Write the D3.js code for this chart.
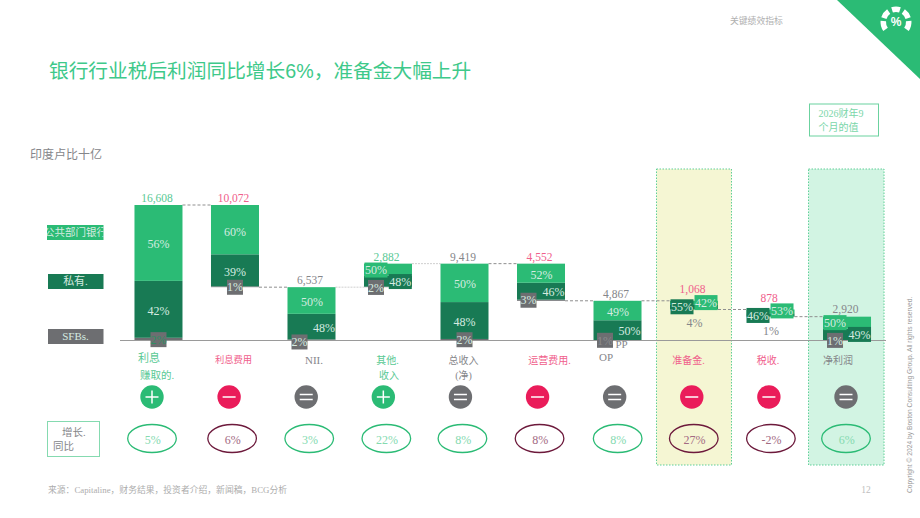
<!DOCTYPE html>
<html lang="zh">
<head>
<meta charset="utf-8">
<title>银行行业税后利润</title>
<script src="https://cdn.jsdelivr.net/npm/d3@7/dist/d3.min.js"></script>
<style>
  html, body { margin: 0; padding: 0; background: #fff; }
  svg { display: block; }
  text { font-family: "Liberation Serif", "Noto Sans CJK SC", serif; }
</style>
</head>
<body>
<svg id="chart" width="920" height="518"></svg>
<script>
// Profit-after-tax bridge for the Indian banking sector, INR billion
const categories = ["利息赚取的", "利息费用", "NII", "其他收入", "总收入", "运营费用", "OP PP", "准备金", "税收", "净利润"];
const values = [16608, 10072, 6537, 2882, 9419, 4552, 4867, 1068, 878, 2920];
const kinds = ["plus", "minus", "total", "plus", "total", "minus", "total", "minus", "minus", "total"];
const publicShare = [56, 60, 50, 50, 50, 52, 49, 42, 53, 50];
const privateShare = [42, 39, 48, 48, 48, 46, 50, 55, 46, 49];
const sfbShare = [2, 1, 2, 2, 2, 3, 1, 4, 1, 1];
const growth = ["5%", "6%", "3%", "22%", "8%", "8%", "8%", "27%", "-2%", "6%"];
const growthTone = ["good", "bad", "good", "good", "good", "bad", "good", "bad", "bad", "good"];
const legendNames = ["公共部门银行", "私有.", "SFBs."];

const GREEN = "#2bbb75", DARK = "#187a54", GREY = "#6d6e71", PINK = "#ea1c5a", MAROON = "#6d1a3c";
const kindColor = { plus: "#58c994", minus: "#f0608b", total: "#85868a" };
const svg = d3.select("#chart");

const x = d3.scaleBand().domain(categories).range([120.25, 885.25]).paddingInner(0.3725).paddingOuter(0.186);
const y = d3.scaleLinear().domain([0, 16608]).range([340.5, 205]);
const rowX = d3.scalePoint().domain(categories).range([152, 846]);
const cx = c => x(c) + x.bandwidth() / 2;

function label(sel, px, py, str, size, fill, anchor = "middle") {
  return sel.append("text").attr("x", px).attr("y", py).attr("dy", "0.35em")
    .attr("text-anchor", anchor).attr("font-size", size).attr("fill", fill).text(str);
}

// Shaded columns behind provisions and net profit
[["准备金", "#f5f6d3", -37.5, 37.5], ["净利润", "#d2f4e3", -38.5, 37]].forEach(([c, fill, a, b]) => {
  svg.append("rect").attr("x", cx(c) + a).attr("y", 169).attr("width", b - a).attr("height", 296)
    .attr("fill", fill).attr("stroke", "#5fcf98").attr("stroke-width", 1).attr("stroke-dasharray", "1.5 1.5");
});

// Running totals for the bridge
let running = 0;
const bars = categories.map((c, i) => {
  const v = values[i];
  let base, top;
  if (kinds[i] === "total") { base = 0; top = v; running = v; }
  else if (kinds[i] === "plus") { base = running; top = running + v; running = top; }
  else { top = running; base = running - v; running = base; }
  const sum = publicShare[i] + privateShare[i] + sfbShare[i];
  const seg = [];
  let cursor = base;
  [[sfbShare[i], GREY, "sfb"], [privateShare[i], DARK, "private"], [publicShare[i], GREEN, "public"]].forEach(([s, color, key]) => {
    const h = v * s / sum;
    seg.push({ key, share: s, color, y0: cursor, y1: cursor + h });
    cursor += h;
  });
  return { c, i, v, base, top, seg };
});

// Connector lines between consecutive bars
const connectorLevel = i => kinds[i] === "minus" ? bars[i].base : bars[i].top;
bars.slice(0, -1).forEach((b, i) => {
  const lvl = connectorLevel(i);
  const faint = i === 2 || i === 3;
  svg.append("line").attr("x1", x(b.c) + x.bandwidth()).attr("x2", x(bars[i + 1].c))
    .attr("y1", y(lvl)).attr("y2", y(lvl))
    .attr("stroke", faint ? "#cfcfcf" : "#8f8f8f").attr("stroke-width", 1).attr("stroke-dasharray", faint ? "2 1" : "3 2");
});

// Stacked segments
bars.forEach(b => {
  svg.selectAll(null).data(b.seg).join("rect")
    .attr("x", x(b.c)).attr("width", x.bandwidth())
    .attr("y", d => y(d.y1)).attr("height", d => y(d.y0) - y(d.y1))
    .attr("fill", d => d.color);
});

// Baseline
svg.append("line").attr("x1", 120).attr("x2", 886).attr("y1", y(0)).attr("y2", y(0))
  .attr("stroke", "#9a9a9a").attr("stroke-width", 1);

// Share label placement per bar: offset from bar centre / segment middle, tagged or plain
const placement = [
  { public: [0, 1], private: [0, 1], sfb: [0, 0.5, "tag", "#2f8f63"] },
  { public: [0, 2], private: [0, 1], sfb: [0, 0.5, "tag"] },
  { public: [0.5, 1.5], private: [12.5, 1.5], sfb: [-12, 2, "tag"] },
  { public: [-12, 0.5, "tag"], private: [12.3, 0.5, "tag"], sfb: [-12, 0.5, "tag"] },
  { public: [0.5, 1], private: [0, 1], sfb: [0, 0, "tag"] },
  { public: [0.5, 1.5], private: [12.5, 1], sfb: [-12.5, 0, "tag"] },
  { public: [0.5, 1.5], private: [12, 1, "", "#d5ebe0"], sfb: [-12.5, 0, "tag", "#8a8b8e"] },
  { public: [12, 0, "tag"], private: [-12, 0, "tag"], sfb: [0.5, 13, "text"] },
  { public: [11.5, -0.5, "tag"], private: [-12.5, 0.5, "tag"], sfb: [0.5, 14, "text"] },
  { public: [-12, 0, "tag"], private: [12.5, 0, "tag"], sfb: [-12, 0, "tag"] }
];

bars.forEach(b => {
  ["public", "private", "sfb"].forEach(key => {
    const s = b.seg.find(d => d.key === key);
    const [dx, dy, mode, ink] = placement[b.i][key];
    const px = cx(b.c) + dx, py = (y(s.y0) + y(s.y1)) / 2 + dy;
    if (mode === "tag") {
      const w = key === "sfb" ? 16 : 23;
      svg.append("rect").attr("x", px - w / 2).attr("y", py - 7.5).attr("width", w).attr("height", 15).attr("fill", s.color);
    }
    const fill = ink || (mode === "text" ? "#85868a" : "#d5ebe0");
    label(svg, px, py, s.share + "%", 12, fill);
  });
});

// Bar totals
const totalLift = [7, 7, 7, 7, 7, 7, 7, 12, 12, 7.5];
bars.forEach(b => {
  label(svg, cx(b.c) - 1.5, y(b.top) - totalLift[b.i], d3.format(",")(b.v), 11.5, kindColor[kinds[b.i]]);
});

// Category captions, some broken over two lines
const captions = [
  [["利息", -9.5, 358, 11], ["赚取的.", -1.5, 375, 10.5]],
  [["利息费用", -1.5, 360, 9.3]],
  [["NII.", 2.5, 360, 11]],
  [["其他.", -0.5, 360, 10], ["收入", 1, 375, 10]],
  [["总收入", -1, 360, 10], ["(净)", -1, 375, 10]],
  [["运营费用.", 8.5, 360, 10]],
  [["OP", -11.5, 357, 11], ["PP", 4, 344, 11]],
  [["准备金.", -5.5, 360, 10]],
  [["税收.", -2.5, 360, 10]],
  [["净利润", -9, 360, 10]]
];
captions.forEach((lines, i) => {
  lines.forEach(([s, dx, py, size]) => label(svg, cx(categories[i]) + dx, py, s, size, kindColor[kinds[i]]));
});

// Sign badges
const badgeColor = { plus: GREEN, minus: PINK, total: GREY };
categories.forEach((c, i) => {
  const g = svg.append("g").attr("transform", `translate(${rowX(c)},397)`);
  g.append("circle").attr("r", 11.7).attr("fill", badgeColor[kinds[i]]);
  const stroke = (x1, y1, x2, y2) => g.append("line").attr("x1", x1).attr("y1", y1).attr("x2", x2).attr("y2", y2)
    .attr("stroke", "#fff").attr("stroke-width", 1.5);
  if (kinds[i] === "plus") { stroke(-6.5, 0, 6.5, 0); stroke(0, -6.5, 0, 6.5); }
  if (kinds[i] === "minus") { stroke(-6.5, 0, 6.5, 0); }
  if (kinds[i] === "total") { stroke(-6.5, -2.5, 6.5, -2.5); stroke(-6.5, 2.5, 6.5, 2.5); }
});

// Year-on-year growth ovals
const ovalShift = [0, 3, 3, 3, 2, 2, 3, 2, 2, 0];
categories.forEach((c, i) => {
  const px = rowX(c) + ovalShift[i], good = growthTone[i] === "good";
  svg.append("ellipse").attr("cx", px).attr("cy", 438.5).attr("rx", 24.3).attr("ry", 14)
    .attr("fill", "none").attr("stroke", good ? GREEN : MAROON).attr("stroke-width", 1.3);
  label(svg, px + 0.7, 439.5, growth[i], 12, good ? "#85dab0" : "#a36a83");
});

svg.append("rect").attr("x", 47.5).attr("y", 421.5).attr("width", 52).attr("height", 35)
  .attr("fill", "none").attr("stroke", "#85dab0").attr("stroke-width", 1);
label(svg, 62, 432.5, "增长.", 10.5, "#85868a", "start");
label(svg, 53, 446.5, "同比", 10.5, "#85868a", "start");

// Legend chips
[[47, GREEN, 225], [48, DARK, 274], [48, GREY, 329]].forEach(([lx, color, ly], k) => {
  svg.append("rect").attr("x", lx).attr("y", ly).attr("width", 103 - lx + 0.5).attr("height", 15).attr("fill", color);
  const clipId = "chip" + k;
  svg.append("clipPath").attr("id", clipId).append("rect").attr("x", lx).attr("y", ly).attr("width", 103 - lx + 0.5).attr("height", 15);
  label(svg, 75.5, ly + 7.5, legendNames[k], k === 0 ? 10.5 : 11, "#d5ebe0").attr("clip-path", `url(#${clipId})`);
});

// Header, unit and note box
label(svg, 49, 71.5, "银行行业税后利润同比增长6%，准备金大幅上升", 19.7, "#3ec98a", "start")
  .style("font-family", "'Liberation Sans', 'Noto Sans CJK SC', sans-serif");
label(svg, 30, 155, "印度卢比十亿", 12, "#85868a", "start");
label(svg, 730, 21, "关键绩效指标", 8.8, "#b0b0b0", "start");
svg.append("rect").attr("x", 809.5).attr("y", 104).attr("width", 69).attr("height", 32)
  .attr("fill", "none").attr("stroke", "#6bd29f").attr("stroke-width", 1);
label(svg, 818.5, 113.5, "2026财年9", 10, "#7ad6a9", "start");
label(svg, 818.5, 127.5, "个月的值", 10, "#7ad6a9", "start");

// Corner flag with its dial emblem
svg.append("path").attr("d", d3.line()([[837, 0], [920, 0], [920, 79]])).attr("fill", GREEN);
const dial = d3.arc().innerRadius(10).outerRadius(15.5);
const toRad = d => d * Math.PI / 180;
[[-125, -85], [-72, -35], [-18, 18], [35, 72], [85, 125]].forEach(([a, b]) => {
  svg.append("path").attr("transform", "translate(896,22)").attr("fill", "#fff")
    .attr("d", dial({ startAngle: toRad(a), endAngle: toRad(b) }));
});
svg.append("text").attr("x", 896).attr("y", 22).attr("dy", "0.36em").attr("text-anchor", "middle")
  .attr("font-size", 12).attr("font-weight", 700).attr("fill", "#fff")
  .style("font-family", "'Liberation Sans', sans-serif").text("%");

// Footer
label(svg, 48, 490, "来源：Capitaline，财务结果，投资者介绍，新闻稿，BCG分析", 8.8, "#adadad", "start");
label(svg, 866, 490, "12", 9.5, "#bdbdbd", "middle");
svg.append("text").attr("transform", "translate(909.5,493) rotate(-90)").attr("dy", "0.35em")
  .attr("font-size", 6.7).attr("fill", "#999").style("font-family", "'Liberation Sans', sans-serif")
  .text("Copyright © 2024 by Boston Consulting Group.  All rights reserved.");
</script>
</body>
</html>
